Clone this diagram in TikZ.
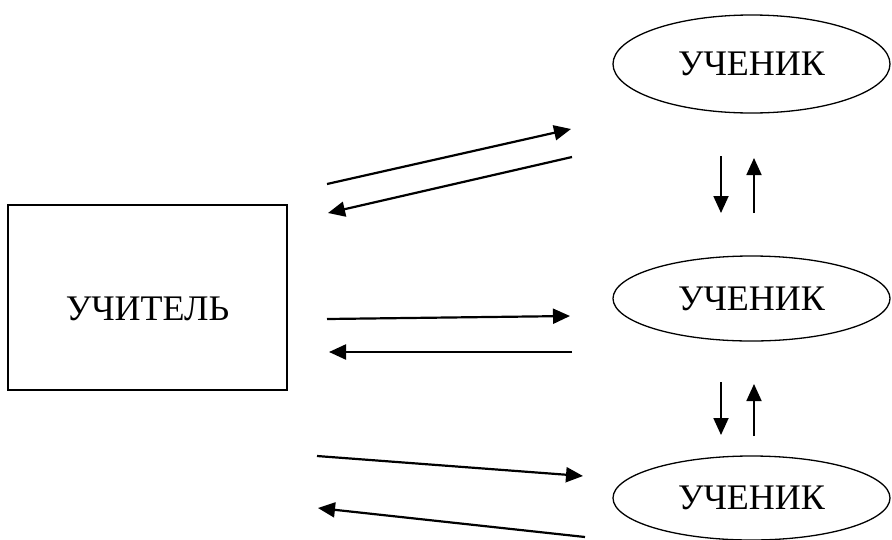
\documentclass[tikz,border=0pt]{standalone}
\usepackage{fontspec}
\setmainfont{Liberation Serif}
\usepackage{tikz}
\usetikzlibrary{shapes,arrows.meta,positioning,calc}

\tikzset{
    arr/.style={-{Triangle[length=17pt,width=15pt]}, line width=2.2pt},
    varr/.style={-{Triangle[length=17pt,width=15pt]}, line width=1.8pt},
    pupil/.style={draw, ellipse, line width=1.3pt, inner sep=0pt, minimum width=277pt, font=\fontsize{36}{40}\selectfont}
}

\begin{document}
\begin{tikzpicture}[x=1pt,y=-1pt]
    \useasboundingbox (0,0) rectangle (892,539);

    % Teacher
    \node[draw, line width=1.5pt, minimum width=279pt, minimum height=185pt, inner sep=0pt] (teacher) at (147.5,297.5) {};
    \node[font=\fontsize{36}{40}\selectfont, anchor=base] (teachertxt) at (147.5,320) {УЧИТЕЛЬ};

    % Pupils
    \node[pupil, minimum height=98pt] (p1) at (751.5,64) {УЧЕНИК};
    \node[pupil, minimum height=85pt] (p2) at (751.5,298.5) {УЧЕНИК};
    \node[pupil, minimum height=84pt] (p3) at (751.5,498) {УЧЕНИК};

    % Arrow ends, teacher side
    \coordinate (a1) at (327,184);
    \coordinate (a2) at (328,213);
    \coordinate (a3) at (327,319);
    \coordinate (a4) at (329,352);
    \coordinate (a5) at (317,456);
    \coordinate (a6) at (318,508);
    % Arrow ends, pupil side
    \coordinate (b1) at (571,129);
    \coordinate (b2) at (572,157);
    \coordinate (b3) at (570,316);
    \coordinate (b4) at (572,352);
    \coordinate (b5) at (583,476);
    \coordinate (b6) at (585,537);

    \draw[arr] (a1) -- (b1);
    \draw[arr] (b2) -- (a2);
    \draw[arr] (a3) -- (b3);
    \draw[arr] (b4) -- (a4);
    \draw[arr] (a5) -- (b5);
    \draw[arr] (b6) -- (a6);

    % Between pupils
    \coordinate (d1) at (721,156);
    \coordinate (e1) at (721,213);
    \coordinate (u1) at (754,213);
    \coordinate (v1) at (754,158);
    \coordinate (d2) at (721,382);
    \coordinate (e2) at (721,435);
    \coordinate (u2) at (754,436);
    \coordinate (v2) at (754,384);

    \draw[varr] (d1) -- (e1);
    \draw[varr] (u1) -- (v1);
    \draw[varr] (d2) -- (e2);
    \draw[varr] (u2) -- (v2);
\end{tikzpicture}
\end{document}
